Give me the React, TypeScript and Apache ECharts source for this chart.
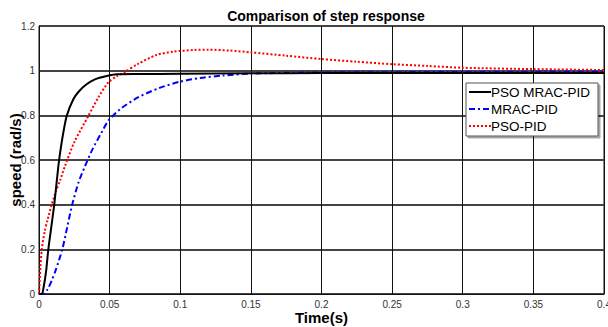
import React, { useEffect, useRef } from "react";
import * as echarts from "echarts";

const FONT = "Arial, 'Liberation Sans', Helvetica, sans-serif";

const seriesNames = ["PSO MRAC-PID", "MRAC-PID", "PSO-PID"];

const tBlack = [0, 0.002, 0.003, 0.005, 0.0066, 0.0087, 0.0108, 0.0137, 0.0153, 0.0172, 0.0196, 0.0243, 0.0285, 0.0337, 0.0396, 0.0479, 0.055, 0.07, 0.1, 0.15, 0.2, 0.3, 0.4];
const vBlack = [0, 0, 0.02, 0.1, 0.2, 0.3, 0.4, 0.573, 0.648, 0.722, 0.797, 0.872, 0.909, 0.939, 0.961, 0.976, 0.984, 0.985, 0.986, 0.988, 0.989, 0.99, 0.99];

const tBlue = [0, 0.003, 0.006, 0.009, 0.012, 0.0165, 0.02, 0.0235, 0.028, 0.0326, 0.038, 0.044, 0.049, 0.0573, 0.07, 0.085, 0.1, 0.114, 0.13, 0.15, 0.2, 0.3, 0.4];
const vBlue = [0, 0, 0.02, 0.06, 0.11, 0.2, 0.3, 0.4, 0.5, 0.573, 0.65, 0.72, 0.775, 0.827, 0.88, 0.922, 0.951, 0.967, 0.978, 0.987, 0.992, 0.994, 0.995];

const tRed = [0, 0.001, 0.002, 0.004, 0.006, 0.009, 0.012, 0.015, 0.0184, 0.025, 0.0349, 0.042, 0.049, 0.055, 0.061, 0.07, 0.083, 0.095, 0.11, 0.12, 0.135, 0.15, 0.175, 0.2, 0.225, 0.25, 0.275, 0.3, 0.35, 0.4];
const vRed = [0, 0.12, 0.2, 0.28, 0.33, 0.4, 0.46, 0.51, 0.573, 0.68, 0.797, 0.88, 0.947, 0.975, 0.995, 1.03, 1.07, 1.085, 1.093, 1.094, 1.09, 1.082, 1.067, 1.052, 1.04, 1.029, 1.021, 1.013, 1.007, 1.003];

const xTicks = [0, 0.05, 0.1, 0.15, 0.2, 0.25, 0.3, 0.35, 0.4];
const yTicks = [0, 0.2, 0.4, 0.6, 0.8, 1, 1.2];

const zip = (t: number[], v: number[]) => t.map((x, i) => [x, v[i]]);

export default function App() {
  const ref = useRef<HTMLDivElement>(null);
  useEffect(() => {
    if (!ref.current) return;
    const chart = echarts.init(ref.current, null, { renderer: "svg" });
    chart.setOption({
      animation: false,
      backgroundColor: "#fff",
      title: {
        text: "Comparison of step response",
        left: 321,
        textAlign: "center",
        top: 4,
        textStyle: { fontFamily: FONT, fontSize: 14, fontWeight: "bold", color: "#000" },
      },
      legend: {
        orient: "vertical",
        left: 466,
        top: 83,
        padding: [2, 8, 3, 2],
        itemGap: 3,
        itemWidth: 22,
        itemHeight: 14,
        itemStyle: { opacity: 0 },
        backgroundColor: "#fff",
        borderColor: "#555",
        borderWidth: 1,
        shadowColor: "rgba(0,0,0,0.35)",
        shadowOffsetX: 2,
        shadowOffsetY: 2,
        shadowBlur: 0,
        textStyle: { fontFamily: FONT, fontSize: 13.5, color: "#000", padding: [0, 0, 0, -5] },
        data: seriesNames,
      },
      grid: {
        left: 39,
        right: 4,
        top: 26,
        bottom: 33,
        show: true,
        borderColor: "#111",
        borderWidth: 1,
        outerBoundsMode: "none",
        containLabel: false,
      },
      xAxis: {
        type: "value",
        min: 0,
        max: 0.4,
        interval: 0.05,
        name: "Time(s)",
        nameLocation: "middle",
        nameGap: 16,
        nameMoveOverlap: false,
        nameTextStyle: { fontFamily: FONT, fontSize: 15, fontWeight: "bold", color: "#000" },
        axisLine: { show: true, lineStyle: { color: "#111", width: 1 } },
        axisTick: { show: false },
        axisLabel: {
          fontFamily: FONT,
          fontSize: 10,
          color: "#333",
          margin: 5,
          formatter: (v: number) => {
            const found = xTicks.find((t) => Math.abs(t - v) < 1e-9);
            return found === undefined ? "" : String(found);
          },
        },
        splitLine: { show: true, lineStyle: { color: "#111", width: 1 } },
      },
      yAxis: {
        type: "value",
        min: 0,
        max: 1.2,
        interval: 0.2,
        name: "speed (rad/s)",
        nameLocation: "middle",
        nameGap: 16,
        nameRotate: 90,
        nameMoveOverlap: false,
        nameTextStyle: { fontFamily: FONT, fontSize: 15, fontWeight: "bold", color: "#000" },
        axisLine: { show: true, lineStyle: { color: "#111", width: 1 } },
        axisTick: { show: false },
        axisLabel: {
          fontFamily: FONT,
          fontSize: 10,
          color: "#333",
          margin: 4,
          formatter: (v: number) => {
            const found = yTicks.find((t) => Math.abs(t - v) < 1e-9);
            return found === undefined ? "" : String(found);
          },
        },
        splitLine: { show: true, lineStyle: { color: "#444", width: 2 } },
      },
      series: [
        {
          name: seriesNames[0],
          type: "line",
          data: zip(tBlack, vBlack),
          smooth: 0.25,
          symbol: "none",
          lineStyle: { color: "#000", width: 2 },
          itemStyle: { color: "#000" },
          z: 5,
        },
        {
          name: seriesNames[1],
          type: "line",
          data: zip(tBlue, vBlue),
          smooth: 0.25,
          symbol: "none",
          lineStyle: { color: "#0000ff", width: 2, type: [6, 3, 2, 3] },
          itemStyle: { color: "#0000ff" },
          z: 4,
        },
        {
          name: seriesNames[2],
          type: "line",
          data: zip(tRed, vRed),
          smooth: 0.25,
          symbol: "none",
          lineStyle: { color: "#ff0000", width: 2, type: [2, 2] },
          itemStyle: { color: "#ff0000" },
          z: 3,
        },
      ],
    });
    return () => chart.dispose();
  }, []);
  return <div ref={ref} style={{ width: 608, height: 327, position: "absolute", left: 0, top: 0 }} />;
}
